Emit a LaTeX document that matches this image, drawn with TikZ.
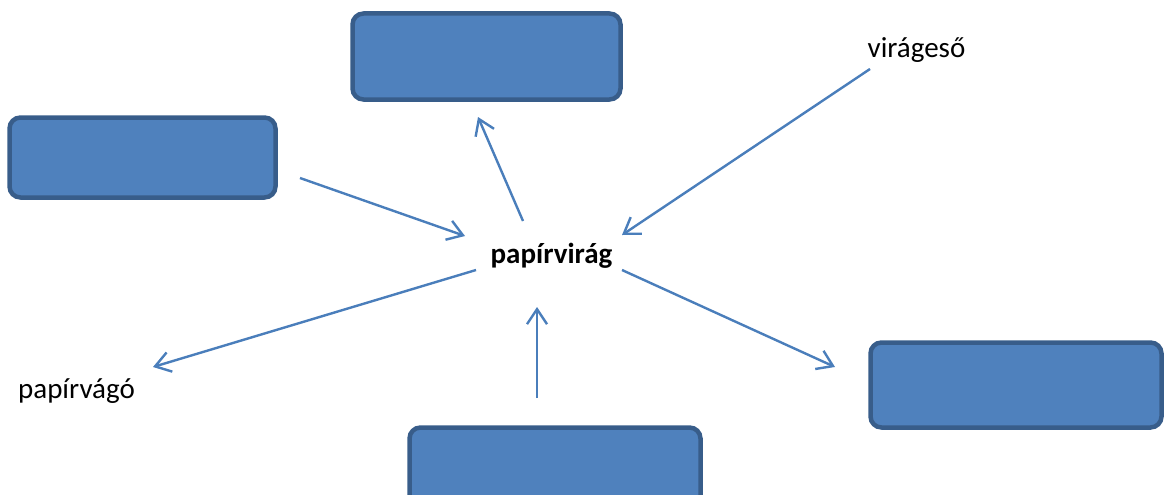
\documentclass[tikz,border=0pt]{standalone}
\usepackage{fontspec}
\setmainfont{Carlito}
\usetikzlibrary{arrows.meta}
\definecolor{boxfill}{HTML}{4F81BD}
\definecolor{boxline}{HTML}{385D8A}
\definecolor{arr}{HTML}{4A7EBB}
\begin{document}
\begin{tikzpicture}[x=1pt,y=-1pt,
  box/.style={fill=boxfill,draw=boxline,line width=4.5pt,rounded corners=11pt,inner sep=0pt,outer sep=0pt},
  conn/.style={draw=arr,line width=2.4pt,-{Straight Barb[length=15pt,width=20pt,line width=2.4pt]}},
  lbl/.style={font=\fontsize{29}{35}\selectfont,inner sep=0pt,anchor=base}]
\useasboundingbox (0,0) rectangle (1165,495);
\node[box,minimum width=268pt,minimum height=86pt] (topbox) at (486.5,56.5) {};
\node[box,minimum width=266pt,minimum height=80pt] (leftbox) at (142.5,157.5) {};
\node[box,minimum width=291pt,minimum height=85pt] (rightbox) at (1016,385) {};
\node[box,minimum width=291pt,minimum height=93pt] (bottombox) at (555,474) {};
\node[lbl,font=\fontsize{29}{35}\selectfont\bfseries] (center) at (551.5,263) {papírvirág};
\node[lbl] (viragesso) at (916.5,58) {virágeső};
\node[lbl] (papirvago) at (76.5,398) {papírvágó};
\coordinate (a1s) at (300,178); \coordinate (a1e) at (465,236);
\coordinate (a2s) at (523,221); \coordinate (a2e) at (478,117);
\coordinate (a3s) at (870,69);  \coordinate (a3e) at (622,235);
\coordinate (a4s) at (476,270); \coordinate (a4e) at (153,367);
\coordinate (a5s) at (537,398); \coordinate (a5e) at (537,307);
\coordinate (a6s) at (622,270); \coordinate (a6e) at (835,367);
\draw[conn] (a1s) -- (a1e);
\draw[conn] (a2s) -- (a2e);
\draw[conn] (a3s) -- (a3e);
\draw[conn] (a4s) -- (a4e);
\draw[conn] (a5s) -- (a5e);
\draw[conn] (a6s) -- (a6e);
\end{tikzpicture}
\end{document}
